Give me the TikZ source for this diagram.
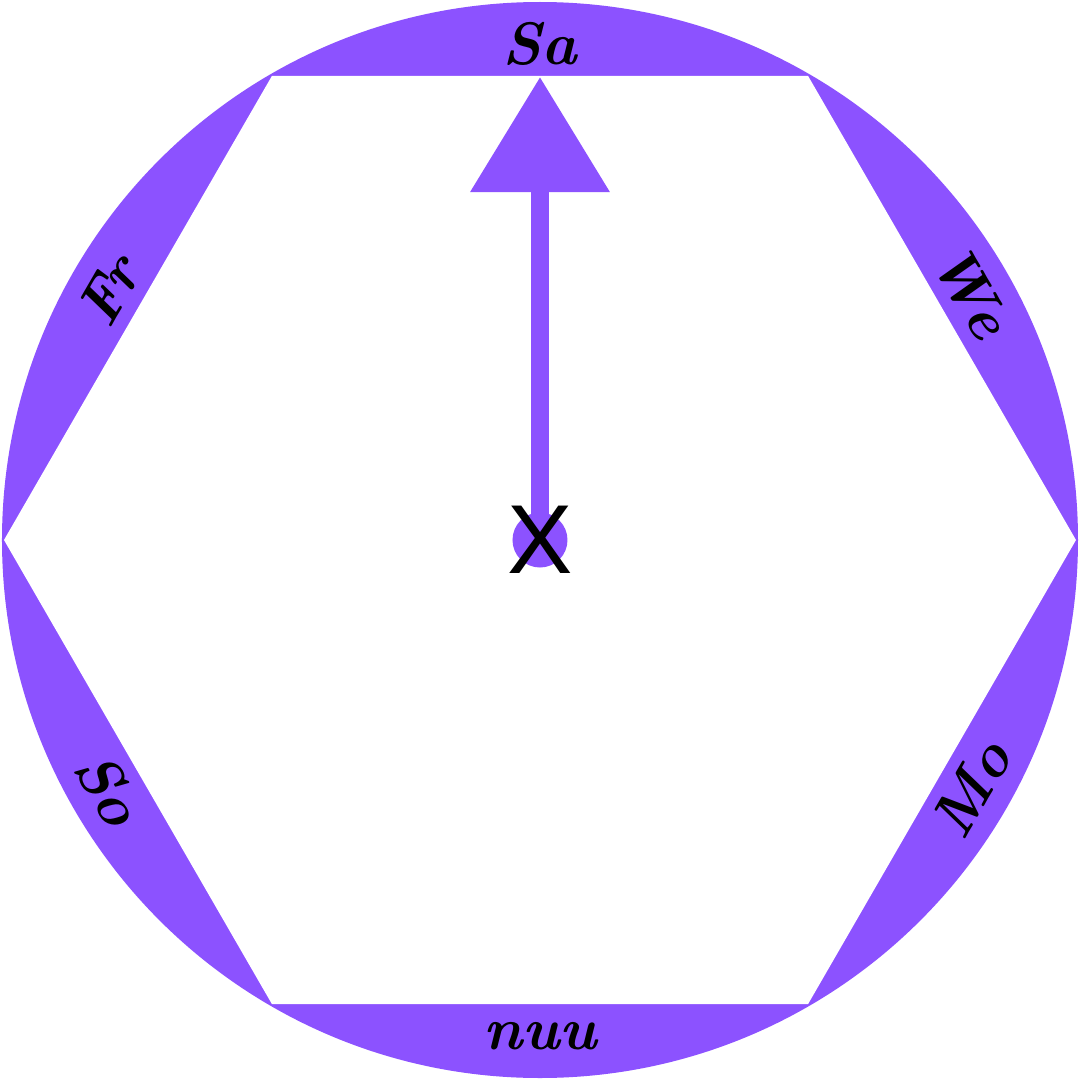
\documentclass[tikz,border=0pt]{standalone}
\usepackage{fontspec}
\newfontfamily\xfont{Liberation Sans}
\usetikzlibrary{arrows.meta}
\definecolor{wheel}{HTML}{8C52FF}
\tikzset{
  seglabel/.style={font=\fontsize{60}{60}\selectfont\bfseries\itshape, text=black, inner sep=0pt},
  pointer/.style={draw=wheel, line width=18pt, -{Triangle[length=115pt,width=135pt]}},
  hub/.style={circle, fill=wheel, minimum size=55pt, inner sep=0pt},
}
\begin{document}
\begin{tikzpicture}[x=1pt,y=1pt]
\useasboundingbox (-540,-540) rectangle (540,540);
\fill[white] (-540,-540) rectangle (540,540);
% wheel
\fill[wheel] (0,0) circle (538);
\fill[white] (0:536) -- (60:536) -- (120:536) -- (180:536) -- (240:536) -- (300:536) -- cycle;
% labels
\node[seglabel] (l1) at (90:496) {Sa};
\node[seglabel, rotate=-60] (l2) at (30:498) {We};
\node[seglabel, rotate=60] (l3) at (-30:498) {Mo};
\node[seglabel] (l4) at (-90:496) {nuu};
\node[seglabel, rotate=-60] (l5) at (210:498) {So};
\node[seglabel, rotate=60] (l6) at (150:498) {Fr};
% pointer
\node[hub] (c) at (0,0) {};
\coordinate (tip) at (0,463);
\draw[pointer] (c.center) -- (tip);
\node[font=\xfont\fontsize{98}{98}\selectfont, inner sep=0pt] (x) at (0,0) {X};
\end{tikzpicture}
\end{document}
